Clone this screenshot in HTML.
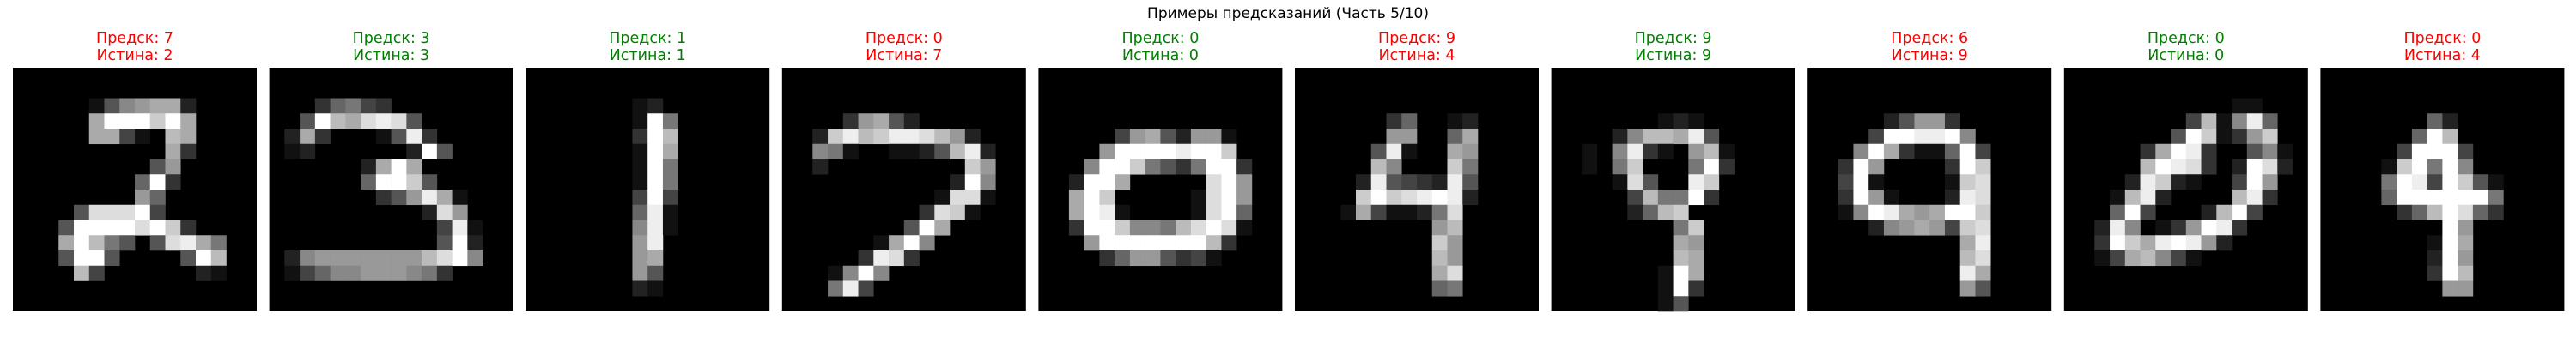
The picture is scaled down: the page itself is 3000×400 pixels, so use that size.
<!DOCTYPE html>
<html>
<head>
<meta charset="utf-8">
<style>
  html,body{margin:0;padding:0;background:#fff;}
  svg{display:block;}
  text{font-family:"DejaVu Sans","Liberation Sans",sans-serif;}
</style>
</head>
<body>
<svg id="chart" width="3000" height="400" viewBox="0 0 3000 400" xmlns="http://www.w3.org/2000/svg">
  <rect x="0" y="0" width="3000" height="400" fill="#ffffff"/>
  <text x="1500" y="21" text-anchor="middle" font-size="17" fill="#000">Примеры предсказаний (Часть 5/10)</text>
  <g id="panels"></g>
</svg>
<script>
const predLabels = [7, 3, 1, 0, 0, 9, 9, 6, 0, 0];
const trueLabels = [2, 3, 1, 7, 0, 4, 9, 9, 0, 4];
const img0 = ["0000000000000000","0000000000000000","00000158 9aa20000","00000afffcfa0000","00000aa410ba0000","0000000000a30000","0000000005900000","000000006f300000","0000000096000000","00005dddf4000000","0005ffffdfc30000","000afb7505dea700","0005ff500005fb00","0000b40000002100","0000000000000000","0000000000000000"];
const img1 = ["0000000000000000","0000000000000000","0003674300000000","005fbaded5000000","02a300015e300000","0120000002f50000","0000002afa000000","0000006ffc500000","0000000359ea1000","00000000002d9000","000000000004e100","000000000005f200","0289999999bdf800","0146889998730000","0000000000000000","0000000000000000"];
const img2 = ["0000000000000000","0000000000000000","0000000120000000","00000001f7000000","00000003fb000000","00000001fa000000","00000001f7000000","00000001f7000000","00000004f4000000","00000006e1000000","00000008e1000000","00000009e0000000","00000009a0000000","0000000950000000","0000000210000000","0000000000000000"];
const img3 = ["0000000000000000","0000000000000000","0000000000000000","000039a520000000","002cebceedb92000","00871001125be200","002000000000c900","000000000002f800","00000000001dd100","0000000003dc1000","000000005fa00000","0000001af8000000","000003ed30000000","00018f8000000000","0007e40000000000","0000000000000000"];
const img4 = ["0000000000000000","0000000000000000","0000000000000000","0000000000000000","0000049a52991000","00009ffffeffc000","0008ffc7537ff300","002ffa00000df900","00afc000001df900","00afe100001df600","003ffc887bdfd100","0009fffffffb3000","0000369953410000","0000000000000000","0000000000000000","0000000000000000"];
const img5 = ["0000000000000000","0000000000000000","0000000000000000","0000003600120000","00000099006a0000","000005e100a90000","00000b8000c70000","00002e5432e50000","0000cfcdefe20000","0001a41127d00000","0000000009b00000","000000000c900000","000000000b900000","000000000ad00000","0000000006700000","0000000000000000"];
const img6 = ["0000000000000000","0000000000000000","0000000000000000","0000000121000000","000028bbae500000","00108e3109b10000","00107c0007f30000","00001d500ec00000","000004b77f300000","0000026bc0000000","000000007c000000","00000000a9000000","00000000ba000000","00000001fa000000","00000001f3000000","0000000150000000"];
const img7 = ["0000000000000000","0000000000000000","0000000000000000","0000025993000000","00004ffeef800000","0008fa3116f40000","003f900003fc0000","004f100001cd0000","003f910002ed0000","0018fea9affc0000","0000289a94cd0000","0000000000ae0000","0000000000bd0000","0000000000ea0000","0000000000950000","0000000000000000"];
const img8 = ["0000000000000000","0000000000000000","0000000000011000","000000004b18e600","00000005fc139c00","000003afe3005810","00000bfed302fd20","00002ec21004f900","0001be20000be300","0006f40002bf4000","002e80139fe30000","003fcaefe9200000","0014ab8410000000","0000000000000000","0000000000000000","0000000000000000"];
const img9 = ["0000000000000000","0000000000000000","0000000000000000","0000000620000000","0000006fb0000000","000004fff4000000","00001cf7f8000000","00007fe4fc510000","00006ffffff70000","0000036bfd630000","00000000f9000000","00000001fa000000","00000002f9000000","00000003fb000000","0000000099000000","0000000000000000"];
const images = [img0, img1, img2, img3, img4, img5, img6, img7, img8, img9];

const NS = "http://www.w3.org/2000/svg";
const root = document.getElementById("panels");
const panelLeft = 15, panelStep = 298.6, panelTop = 79, panelSize = 284, grid = 16;
const cell = panelSize / grid;
function px(i) { return panelLeft + i * panelStep; }
function gray(ch) {
  const v = parseInt(ch, 16);
  const g = isNaN(v) ? 0 : Math.round(v * 17);
  return "rgb(" + g + "," + g + "," + g + ")";
}

images.forEach(function (img, i) {
  const g = document.createElementNS(NS, "g");
  
  
  const x0 = px(i);
  const correct = predLabels[i] === trueLabels[i];
  const color = correct ? "#008000" : "#ff0000";

  const bg = document.createElementNS(NS, "rect");
  bg.setAttribute("x", x0); bg.setAttribute("y", panelTop);
  bg.setAttribute("width", panelSize); bg.setAttribute("height", panelSize);
  bg.setAttribute("fill", "#000");
  
  
  g.appendChild(bg);

  img.forEach(function (row, r) {
    const s = row.replace(/ /g, "");
    for (let c = 0; c < grid; c++) {
      const ch = s.charAt(c) || "0";
      if (ch === "0") continue;
      const rc = document.createElementNS(NS, "rect");
      rc.setAttribute("x", (x0 + c * cell).toFixed(2));
      rc.setAttribute("y", (panelTop + r * cell).toFixed(2));
      rc.setAttribute("width", (cell + 0.3).toFixed(2));
      rc.setAttribute("height", (cell + 0.3).toFixed(2));
      rc.setAttribute("fill", gray(ch));
      
      
      g.appendChild(rc);
    }
  });

  const t1 = document.createElementNS(NS, "text");
  t1.setAttribute("x", x0 + panelSize / 2); t1.setAttribute("y", 50);
  t1.setAttribute("text-anchor", "middle"); t1.setAttribute("font-size", "17.5");
  t1.setAttribute("fill", color);
  t1.textContent = "Предск: " + predLabels[i];
  
  
  g.appendChild(t1);

  const t2 = document.createElementNS(NS, "text");
  t2.setAttribute("x", x0 + panelSize / 2); t2.setAttribute("y", 70);
  t2.setAttribute("text-anchor", "middle"); t2.setAttribute("font-size", "17.5");
  t2.setAttribute("fill", color);
  t2.textContent = "Истина: " + trueLabels[i];
  
  
  g.appendChild(t2);

  root.appendChild(g);
});
</script>
</body>
</html>
